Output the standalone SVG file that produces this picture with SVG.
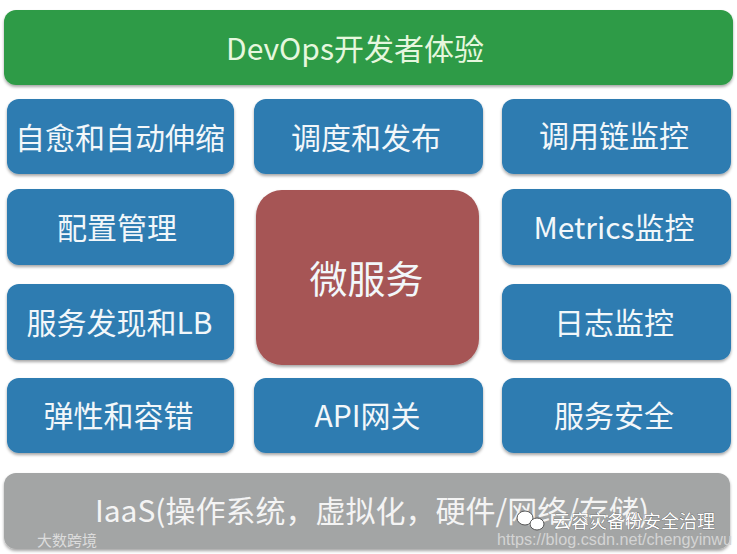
<svg xmlns="http://www.w3.org/2000/svg" width="737" height="554" viewBox="0 0 737 554">
<defs>
<filter id="sh" x="-5%" y="-10%" width="110%" height="125%">
<feDropShadow dx="0" dy="2" stdDeviation="1.5" flood-color="#000" flood-opacity="0.35"/>
</filter>
<style>
.t{font-family:"Noto Sans CJK SC","Noto Sans",sans-serif;font-size:30px;fill:#f2f7fa;text-anchor:middle;dominant-baseline:central}
.blue{fill:#2d7bb1;filter:url(#sh)}
.green{fill:#2f9b46;filter:url(#sh)}
.red{fill:#a65454;filter:url(#sh)}
.gray{fill:#a3a5a5;filter:url(#sh)}
.wm{font-family:"Liberation Sans","Noto Sans CJK SC",sans-serif;text-anchor:start;dominant-baseline:central}
</style>
</defs>
<rect width="737" height="554" fill="#ffffff"/>

<g id="devops">
<rect class="green" x="4" y="10" width="729" height="75" rx="12"/>
<text class="t" x="355" y="47" style="fill:#e6f7de">DevOps开发者体验</text>
</g>

<g id="self-heal">
<rect class="blue" x="7" y="99" width="227" height="75" rx="12"/>
<text class="t" x="120" y="136">自愈和自动伸缩</text>
</g>
<g id="schedule">
<rect class="blue" x="254" y="99" width="229" height="75" rx="12"/>
<text class="t" x="366" y="136">调度和发布</text>
</g>
<g id="trace">
<rect class="blue" x="502" y="99" width="229" height="75" rx="12"/>
<text class="t" x="614" y="134">调用链监控</text>
</g>

<g id="config">
<rect class="blue" x="7" y="189" width="227" height="76" rx="12"/>
<text class="t" x="117" y="226">配置管理</text>
</g>
<g id="metrics">
<rect class="blue" x="502" y="189" width="229" height="76" rx="12"/>
<text class="t" x="614" y="226">Metrics监控</text>
</g>

<g id="microservice">
<rect class="red" x="256" y="190" width="223" height="175" rx="26"/>
<text class="t" x="366.5" y="276" style="font-size:38px">微服务</text>
</g>

<g id="discovery">
<rect class="blue" x="7" y="284" width="227" height="76" rx="12"/>
<text class="t" x="119.5" y="321">服务发现和LB</text>
</g>
<g id="logs">
<rect class="blue" x="502" y="284" width="229" height="76" rx="12"/>
<text class="t" x="614" y="321">日志监控</text>
</g>

<g id="resilience">
<rect class="blue" x="7" y="378" width="227" height="75" rx="12"/>
<text class="t" x="118.5" y="414">弹性和容错</text>
</g>
<g id="gateway">
<rect class="blue" x="254" y="378" width="229" height="75" rx="12"/>
<text class="t" x="367.5" y="414">API网关</text>
</g>
<g id="security">
<rect class="blue" x="502" y="378" width="229" height="75" rx="12"/>
<text class="t" x="614" y="414">服务安全</text>
</g>

<g id="iaas">
<rect class="gray" x="4" y="473" width="726" height="76" rx="12"/>
<text class="t" x="372" y="509" style="fill:#f4f4f4">IaaS(操作系统，虚拟化，硬件/网络/存储)</text>
</g>

<g id="watermarks">
<text class="wm" x="37" y="540" style="font-size:15px;fill:#dcdcdc">大数跨境</text>
<ellipse cx="525" cy="518" rx="8" ry="7" fill="#ffffff" stroke="#555" stroke-width="1"/>
<ellipse cx="537" cy="524" rx="7" ry="6" fill="#ffffff" stroke="#555" stroke-width="1"/>
<text class="wm" x="553" y="522" style="font-size:18px;fill:#ffffff;stroke:#555;stroke-width:0.6;paint-order:stroke">云容灾备份安全治理</text>
<text class="wm" x="497" y="539" textLength="235" lengthAdjust="spacingAndGlyphs" style="font-size:16px;fill:#d4d4d4">https://blog.csdn.net/chengyinwu</text>
</g>
</svg>
